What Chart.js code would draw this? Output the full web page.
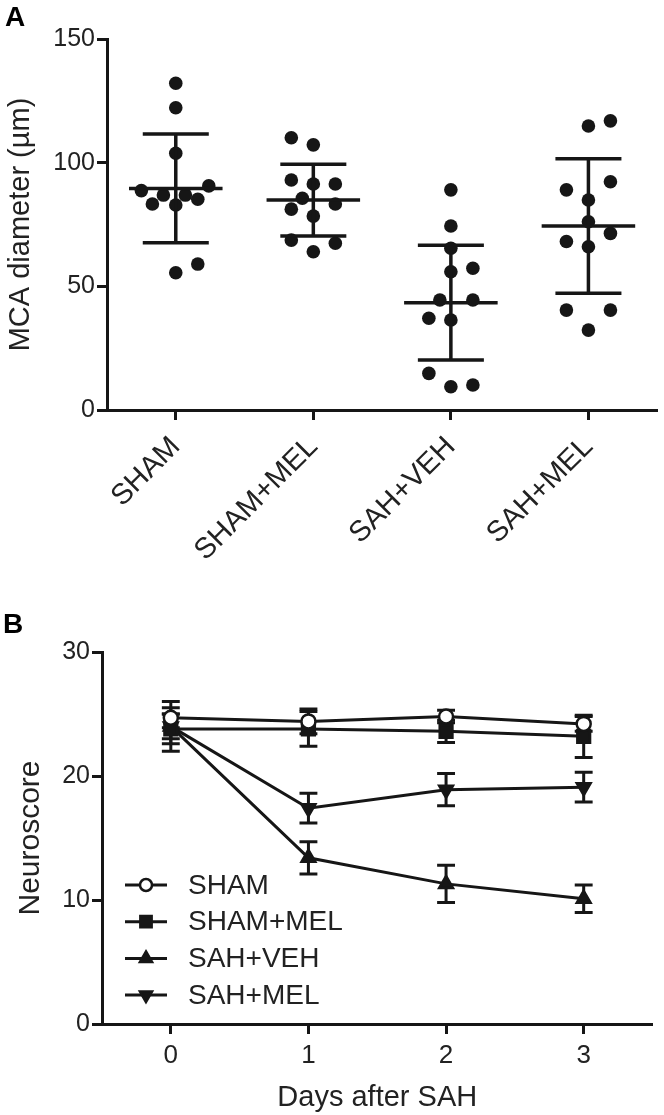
<!DOCTYPE html>
<html>
<head>
<meta charset="utf-8">
<script src="https://cdn.jsdelivr.net/npm/chart.js@4/dist/chart.umd.min.js"></script>
<style>
  html, body { margin: 0; padding: 0; background: #fff; }
  body { width: 664px; height: 1115px; position: relative; overflow: hidden; }
  canvas { position: absolute; left: 0; }
  #chartA { top: 0; }
  #chartB { top: 560px; }
</style>
</head>
<body>
<canvas id="chartA" width="664" height="560"></canvas>
<canvas id="chartB" width="664" height="555"></canvas>
<script>
const groups = ['SHAM', 'SHAM+MEL', 'SAH+VEH', 'SAH+MEL'];

// Panel A: MCA diameter (µm), one dot per animal
const shamDiam    = [132.1, 122.2, 103.8, 88.7, 90.6, 86.9, 86.9, 83.3, 82.9, 85.2, 55.5, 59.0];
const shamMelDiam = [110.1, 107.2, 93.0, 91.4, 91.4, 85.6, 83.3, 81.2, 78.4, 68.7, 64.0, 67.4];
const sahVehDiam  = [89.0, 74.4, 65.4, 55.9, 57.3, 44.5, 44.5, 37.1, 36.4, 14.8, 9.4, 10.1];
const sahMelDiam  = [114.8, 116.9, 92.3, 89.0, 84.9, 76.1, 71.4, 68.1, 66.0, 40.4, 40.4, 32.3];

// sideways spread of the dots (category units), as in the scatter plot
const shamJitter    = [0, 0, 0, -0.25, 0.24, -0.09, 0.07, -0.17, 0, 0.16, 0, 0.16];
const shamMelJitter = [-0.16, 0, -0.16, 0, 0.16, -0.08, 0.16, -0.16, 0, -0.16, 0, 0.16];
const sahVehJitter  = [0, 0, 0, 0, 0.16, -0.08, 0.16, -0.16, 0, -0.16, 0, 0.16];
const sahMelJitter  = [0, 0.16, 0.16, -0.16, 0, 0, 0.16, -0.16, 0, -0.16, 0.16, 0];

const diamMean = [89.6, 84.9, 43.4, 74.4];
const diamSd   = [22.0, 14.5, 23.2, 27.2];
const diamTicks = [0, 50, 100, 150];

// Panel B: neuroscore over days after SAH (mean ± SD)
const days = [0, 1, 2, 3];
const shamScore    = [24.7, 24.4, 24.8, 24.2];
const shamSd       = [0.8, 1.0, 0.5, 0.6];
const shamMelScore = [23.8, 23.8, 23.6, 23.2];
const shamMelSd    = [1.2, 1.4, 0.9, 1.7];
const sahVehScore  = [24.0, 13.4, 11.3, 10.1];
const sahVehSd     = [2.0, 1.3, 1.5, 1.1];
const sahMelScore  = [24.0, 17.4, 18.9, 19.1];
const sahMelSd     = [1.0, 1.2, 1.3, 1.2];
const scoreTicks = [0, 10, 20, 30];

const FONT = "'Liberation Sans', Arial, Helvetica, sans-serif";
const INK = '#161616';
const TXT = '#222';

Chart.defaults.font.family = FONT;
Chart.defaults.color = TXT;

function axisStyle() {
    return {
        grid: { display: true, drawOnChartArea: false, drawTicks: true, tickLength: 10, tickWidth: 3, tickColor: INK, color: INK },
        border: { display: true, width: 3, color: INK }
    };
}

function panelLabel(text, x, y) {
    return {
        id: 'panelLabel' + text,
        afterDraw(chart) {
            const ctx = chart.ctx;
            ctx.save();
            ctx.font = 'bold 28px ' + FONT;
            ctx.fillStyle = '#000';
            ctx.textBaseline = 'alphabetic';
            ctx.fillText(text, x, y);
            ctx.restore();
        }
    };
}

// ---------- Panel A ----------
const diamSets = [shamDiam, shamMelDiam, sahVehDiam, sahMelDiam];
const jitters = [shamJitter, shamMelJitter, sahVehJitter, sahMelJitter];

const meanSdPlugin = {
    id: 'meanSd',
    afterDatasetsDraw(chart) {
        const { ctx, scales: { x, y } } = chart;
        ctx.save();
        ctx.strokeStyle = INK;
        ctx.lineWidth = 3.5;
        ctx.lineCap = 'butt';
        diamMean.forEach((m, i) => {
            const cx = x.getPixelForValue(i + 1);
            const half = x.getPixelForValue(i + 1.34) - cx;
            const cap = x.getPixelForValue(i + 1.24) - cx;
            const yM = y.getPixelForValue(m);
            const yHi = y.getPixelForValue(m + diamSd[i]);
            const yLo = y.getPixelForValue(m - diamSd[i]);
            ctx.beginPath();
            ctx.moveTo(cx - half, yM); ctx.lineTo(cx + half, yM);
            ctx.moveTo(cx, yHi); ctx.lineTo(cx, yLo);
            ctx.moveTo(cx - cap, yHi); ctx.lineTo(cx + cap, yHi);
            ctx.moveTo(cx - cap, yLo); ctx.lineTo(cx + cap, yLo);
            ctx.stroke();
        });
        ctx.restore();
    }
};

new Chart(document.getElementById('chartA'), {
    type: 'scatter',
    data: {
        datasets: groups.map((g, gi) => ({
            label: g,
            data: diamSets[gi].map((v, i) => ({ x: gi + 1 + jitters[gi][i], y: v })),
            pointRadius: 6.8,
            pointBackgroundColor: INK,
            pointBorderWidth: 0,
            pointHoverRadius: 6.8
        }))
    },
    options: {
        responsive: false,
        animation: false,
        devicePixelRatio: 1,
        layout: { padding: { top: 39, right: 4, left: 0, bottom: 0 } },
        plugins: { legend: { display: false }, tooltip: { enabled: false } },
        scales: {
            x: {
                type: 'linear',
                min: 0.5,
                max: 4.5,
                afterBuildTicks: s => { s.ticks = groups.map((g, i) => ({ value: i + 1 })); },
                ticks: {
                    callback: v => groups[v - 1],
                    minRotation: 45,
                    maxRotation: 45,
                    padding: 10,
                    font: { size: 29 }
                },
                afterFit: s => { s.height = 150; },
                ...axisStyle()
            },
            y: {
                min: 0,
                max: 150,
                afterBuildTicks: s => { s.ticks = diamTicks.map(v => ({ value: v })); },
                ticks: { padding: 2, font: { size: 25 } },
                title: { display: true, text: 'MCA diameter (µm)', font: { size: 29 }, padding: { top: 4, bottom: 0 } },
                afterFit: s => { s.width = 107; },
                ...axisStyle()
            }
        }
    },
    plugins: [meanSdPlugin, panelLabel('A', 5, 26)]
});

// ---------- Panel B ----------
const scoreSets = [shamScore, shamMelScore, sahVehScore, sahMelScore];
const sdSets = [shamSd, shamMelSd, sahVehSd, sahMelSd];
const markerStyles = ['circle', 'rect', 'triangle', 'triangle'];
const markerRot = [0, 0, 0, 180];
const markerSize = [7, 9, 8, 8];
const markerFill = ['#fff', INK, INK, INK];

const errorBarPlugin = {
    id: 'errorBars',
    beforeDatasetsDraw(chart) {
        const { ctx, scales: { x, y } } = chart;
        ctx.save();
        ctx.strokeStyle = INK;
        ctx.lineWidth = 3;
        scoreSets.forEach((set, si) => {
            set.forEach((v, i) => {
                const cx = x.getPixelForValue(days[i]);
                const cap = x.getPixelForValue(days[i] + 0.065) - cx;
                const yHi = y.getPixelForValue(v + sdSets[si][i]);
                const yLo = y.getPixelForValue(v - sdSets[si][i]);
                ctx.beginPath();
                ctx.moveTo(cx, yHi); ctx.lineTo(cx, yLo);
                ctx.moveTo(cx - cap, yHi); ctx.lineTo(cx + cap, yHi);
                ctx.moveTo(cx - cap, yLo); ctx.lineTo(cx + cap, yLo);
                ctx.stroke();
            });
        });
        ctx.restore();
    }
};

const legendPlugin = {
    id: 'insideLegend',
    afterDraw(chart) {
        const { ctx, chartArea } = chart;
        const x0 = chartArea.left + 23;
        const y0 = chartArea.top + 233;
        const step = 36.7;
        ctx.save();
        ctx.font = '28px ' + FONT;
        ctx.textBaseline = 'middle';
        groups.forEach((g, i) => {
            const yy = y0 + i * step;
            ctx.strokeStyle = INK;
            ctx.lineWidth = 3;
            ctx.beginPath();
            ctx.moveTo(x0, yy); ctx.lineTo(x0 + 42, yy);
            ctx.stroke();
            ctx.fillStyle = markerFill[i];
            ctx.lineWidth = 2.5;
            Chart.helpers.drawPoint(ctx, {
                pointStyle: markerStyles[i],
                rotation: markerRot[i],
                radius: markerSize[i] - 1,
                borderWidth: 2.5
            }, x0 + 21, yy);
            ctx.fillStyle = TXT;
            ctx.fillText(g, x0 + 63, yy + 1);
        });
        ctx.restore();
    }
};

new Chart(document.getElementById('chartB'), {
    type: 'line',
    data: {
        datasets: groups.map((g, gi) => ({
            label: g,
            data: days.map((d, i) => ({ x: d, y: scoreSets[gi][i] })),
            borderColor: INK,
            borderWidth: 3,
            tension: 0,
            fill: false,
            pointStyle: markerStyles[gi],
            pointRotation: markerRot[gi],
            pointRadius: markerSize[gi],
            pointHoverRadius: markerSize[gi],
            pointBackgroundColor: markerFill[gi],
            pointBorderColor: INK,
            pointBorderWidth: 2.5
        }))
    },
    options: {
        responsive: false,
        animation: false,
        devicePixelRatio: 1,
        layout: { padding: { top: 92, right: 9, left: 0, bottom: 0 } },
        plugins: { legend: { display: false }, tooltip: { enabled: false } },
        scales: {
            x: {
                type: 'linear',
                min: -0.5,
                max: 3.5,
                afterBuildTicks: s => { s.ticks = days.map(v => ({ value: v })); },
                ticks: { padding: 6, font: { size: 26 } },
                title: { display: true, text: 'Days after SAH', font: { size: 29 }, padding: { top: 0, bottom: 0 } },
                afterFit: s => { s.height = 91; },
                ...axisStyle()
            },
            y: {
                min: 0,
                max: 30,
                afterBuildTicks: s => { s.ticks = scoreTicks.map(v => ({ value: v })); },
                ticks: { padding: 2, font: { size: 25 } },
                title: { display: true, text: 'Neuroscore', font: { size: 30 }, padding: { top: 13, bottom: 0 } },
                afterFit: s => { s.width = 102; },
                ...axisStyle()
            }
        }
    },
    plugins: [errorBarPlugin, legendPlugin, panelLabel('B', 3, 73)]
});
</script>
</body>
</html>
